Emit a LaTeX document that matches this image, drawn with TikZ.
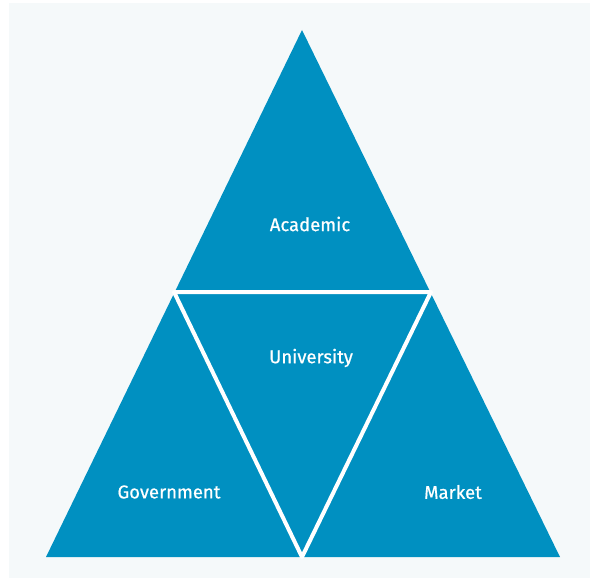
\documentclass[tikz,border=0pt]{standalone}
\usepackage{fontspec}
\setsansfont{Fira Sans}
\newfontfamily\labelfont{Fira Sans}[FakeBold=0.6]
\usetikzlibrary{positioning}
\definecolor{triblue}{HTML}{0090C1}
\definecolor{paper}{HTML}{F5F9FA}

\begin{document}
\begin{tikzpicture}[x=1pt,y=-1pt]
  \tikzstyle{part}=[fill=triblue]
  \tikzstyle{gap}=[draw=white, line width=4pt, line join=round]
  \tikzstyle{label}=[text=white, font=\labelfont\fontsize{18.5}{20}\selectfont]

  \useasboundingbox (0,0) rectangle (590,578);
  \fill[paper] (9,3) rectangle (590,578);

  % corners of the big triangle and the midpoints of its sides
  \coordinate (top)   at (302,30);
  \coordinate (left)  at (46,557);
  \coordinate (right) at (560,557);
  \coordinate (ml)    at (174,292);
  \coordinate (mr)    at (431,292);
  \coordinate (mb)    at (302,557);

  \path[part] (top) -- (left) -- (right) -- cycle;
  \path[gap] (ml) -- (mr) -- (mb) -- cycle;

  \node[label] (academic)   at (310,224) {Academic};
  \node[label] (university) at (311,358) {University};
  \node[label] (government) at (169,492) {Government};
  \node[label] (market)     at (453,492) {Market};
\end{tikzpicture}
\end{document}
